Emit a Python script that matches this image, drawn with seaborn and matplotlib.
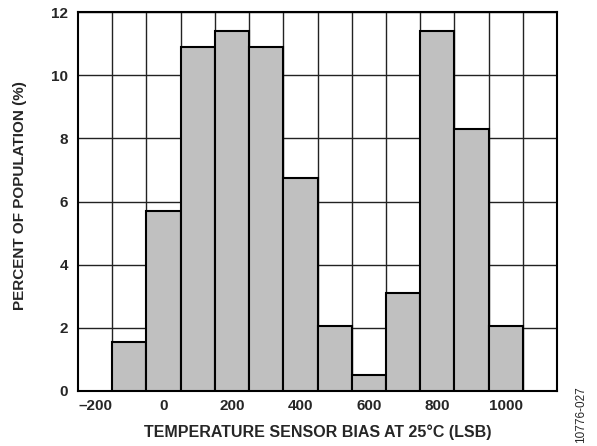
import matplotlib
matplotlib.use("Agg")
import matplotlib.pyplot as plt
import seaborn as sns
import numpy as np
import pandas as pd

# Data: bin centers (LSB) and percent of population
bias_centers = [-100, 0, 100, 200, 300, 400, 500, 600, 700, 800, 900, 1000]
percent = [1.55, 5.7, 10.9, 11.4, 10.9, 6.75, 2.05, 0.5, 3.1, 11.4, 8.3, 2.05]
x_ticks = [-200, 0, 200, 400, 600, 800, 1000]
y_ticks = [0, 2, 4, 6, 8, 10, 12]

sns.set_style("white")
plt.rcParams['font.family'] = ['Liberation Sans', 'DejaVu Sans']

df = pd.DataFrame({"bias": bias_centers, "pct": percent})

fig = plt.figure(figsize=(5.97, 4.46), dpi=100)
ax = fig.add_axes([78/597, 1 - 391/446, (557-78)/597, (391-12)/446])

sns.histplot(data=df, x="bias", weights="pct", binwidth=100, binrange=(-150, 1050),
             color="#C0C0C0", edgecolor="black", linewidth=1.5, alpha=1, ax=ax, zorder=3)

ax.set_xlim(-250, 1150)
ax.set_ylim(0, 12)
ax.set_xticks(x_ticks)
ax.set_xticks(np.arange(-150, 1100, 100), minor=True)
ax.set_yticks(y_ticks)
ax.set_xticklabels([f"{v}".replace("-", "\u2013") for v in x_ticks], fontweight="bold", fontsize=11)
ax.set_yticklabels([str(v) for v in y_ticks], fontweight="bold", fontsize=11)
ax.tick_params(axis="x", which="both", length=0, pad=6)
ax.tick_params(axis="y", which="both", length=0, pad=7)

ax.set_axisbelow(True)
ax.grid(which="minor", axis="x", color="#222222", linewidth=1.0)
ax.grid(which="major", axis="x", visible=False)
ax.grid(which="major", axis="y", color="#222222", linewidth=1.0)

for s in ax.spines.values():
    s.set_visible(True)
    s.set_color("black")
    s.set_linewidth(1.5)

ax.set_xlabel("TEMPERATURE SENSOR BIAS AT 25°C (LSB)", fontweight="bold", fontsize=11.5)
ax.set_ylabel("PERCENT OF POPULATION (%)", fontweight="bold", fontsize=11)
ax.xaxis.set_label_coords((318 - 78) / (557 - 78), -(432 - 391) / (391 - 12))
ax.yaxis.set_label_coords(-(78 - 20) / (557 - 78), (391 - 196) / (391 - 12))
ax.xaxis.label.set_va("center")
ax.yaxis.label.set_va("center")

fig.text(581/597, 1 - 415/446, "10776-027", rotation=90, fontsize=8.5, ha="center", va="center")

fig.savefig("out.png", dpi=100)
